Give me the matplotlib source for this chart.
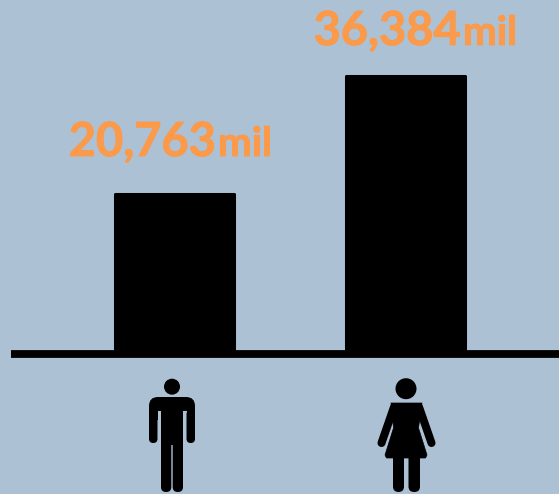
import matplotlib
matplotlib.use("Agg")
import matplotlib.pyplot as plt
import matplotlib.patheffects as pe
from matplotlib.patches import Circle, FancyBboxPatch, Polygon

# Totals by sex, in thousands
groups = ["Hombres", "Mujeres"]
values = [20763, 36384]
unit = "mil"

W, H = 559, 494
bg_color = "#adc1d5"
label_color = "#fb9a4b"
base_px = 350
scale = 274 / max(values)
bar_spacing = 231
first_center = 174

fig = plt.figure(figsize=(W / 100, H / 100), dpi=100, facecolor=bg_color)

# Bars, in data units
ax = fig.add_axes([0, 0, 1, 1])
ax.set_xlim(-first_center / bar_spacing, (W - first_center) / bar_spacing)
ax.set_ylim(-(H - base_px) / scale, base_px / scale)
ax.axis("off")
ax.bar(range(len(groups)), values, width=119 / bar_spacing, color="black",
       edgecolor="black", linewidth=2.2, joinstyle="round")

# Overlay in pixels for the baseline, labels and pictograms
ov = fig.add_axes([0, 0, 1, 1])
ov.set_xlim(0, W)
ov.set_ylim(H, 0)
ov.axis("off")
ov.patch.set_alpha(0)
ov.plot([11, W], [354, 354], color="black", lw=5.6, solid_capstyle="butt")

thicker = [pe.withStroke(linewidth=0.7, foreground=label_color)]


def value_label(value, x_split, y_base):
    ov.text(x_split, y_base, f"{value:,}", color=label_color, ha="right", va="baseline",
            family="Lato", weight="bold", fontsize=33.8, path_effects=thicker)
    ov.text(x_split + 2, y_base, unit, color=label_color, ha="left", va="baseline",
            family="Lato", weight="bold", fontsize=29, path_effects=thicker)


value_label(values[0], 216, 156)
value_label(values[1], 461, 45)


def rounded(x0, y0, x1, y1, r):
    ov.add_patch(FancyBboxPatch((x0 + r, y0 + r), x1 - x0 - 2 * r, y1 - y0 - 2 * r,
                                boxstyle=f"round,pad={r},rounding_size={r}",
                                fc="black", ec="none"))


# Man: shoulders, arms, torso, legs
ov.add_patch(Circle((172, 386.7), 8, fc="black", ec="none"))
rounded(149, 397, 195, 420, 9)
ov.fill_between([157.5, 161], 410.5, 421, color=bg_color, lw=0)
ov.fill_between([183, 186.5], 410.5, 421, color=bg_color, lw=0)
rounded(149, 410, 157.5, 443, 4.2)
rounded(186.5, 410, 195, 443, 4.2)
ov.fill_between([161, 183], 404, 445, color="black", lw=0)
rounded(161, 435, 171.3, 492, 5)
rounded(172.7, 435, 183, 492, 5)

# Woman: dress, arms, legs
ov.add_patch(Circle((406, 388.7), 10.5, fc="black", ec="none"))
ov.add_patch(Polygon([(391, 403), (422, 403), (418.5, 428), (427, 455), (425.5, 458),
                      (386.5, 458), (385, 455), (393.5, 428)],
                     closed=True, fc="black", ec="black", lw=0.5, joinstyle="round"))
ov.plot([394, 381.5], [407, 443], color="black", lw=5.8, solid_capstyle="round")
ov.plot([419, 431.5], [407, 443], color="black", lw=5.8, solid_capstyle="round")
rounded(393, 450, 404, 492, 5.5)
rounded(408.5, 450, 420, 492, 5.5)

fig.savefig("out.png", dpi=100, facecolor=bg_color)
